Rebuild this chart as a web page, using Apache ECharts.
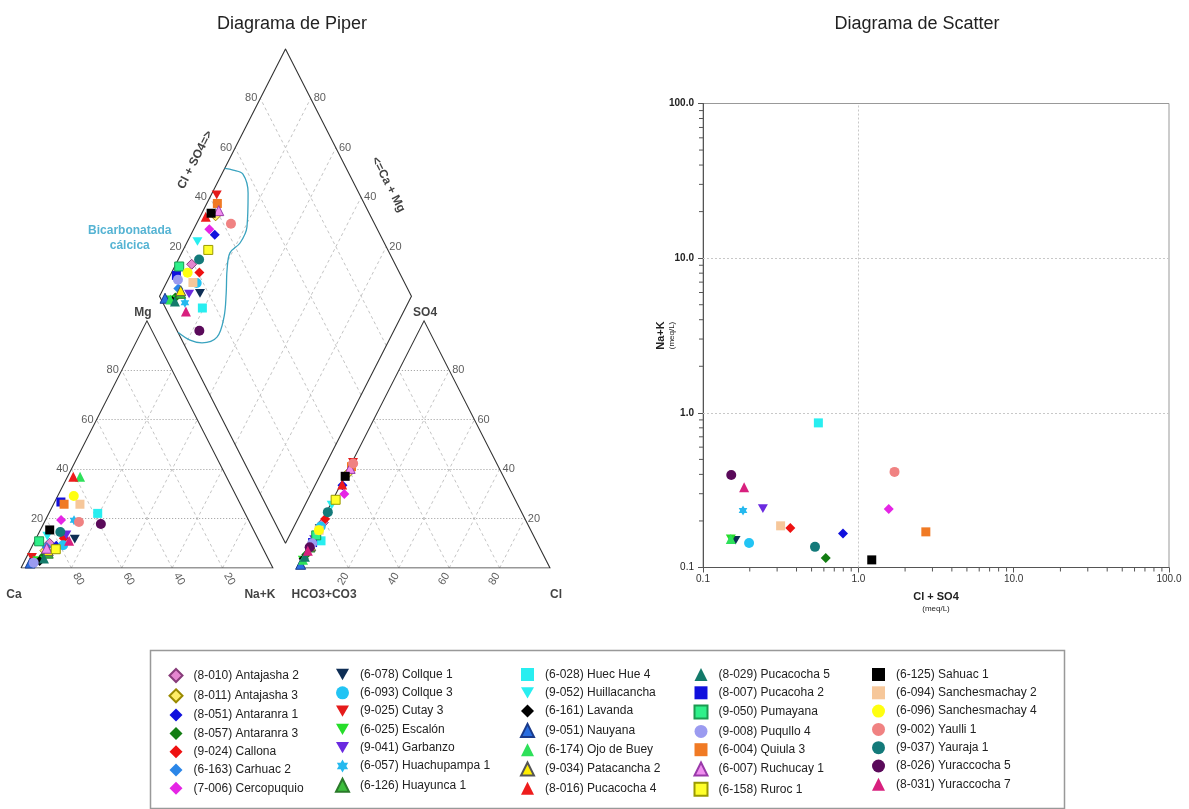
<!DOCTYPE html>
<html><head><meta charset="utf-8">
<script src="https://cdn.jsdelivr.net/npm/echarts@6/dist/echarts.min.js"></script>
<style>html,body{margin:0;padding:0;background:#fff}#c{width:1189px;height:809px}</style>
</head><body><div id="c"></div>
<script>
// ---------------- DATA ----------------
const sampleNames = [
 '(8-010) Antajasha 2','(8-011) Antajasha 3','(8-051) Antaranra 1','(8-057) Antaranra 3','(9-024) Callona','(6-163) Carhuac 2','(7-006) Cercopuquio',
 '(6-078) Collque 1','(6-093) Collque 3','(9-025) Cutay 3','(6-025) Escalón','(9-041) Garbanzo','(6-057) Huachupampa 1','(6-126) Huayunca 1',
 '(6-028) Huec Hue 4','(9-052) Huillacancha','(6-161) Lavanda','(9-051) Nauyana','(6-174) Ojo de Buey','(9-034) Patacancha 2','(8-016) Pucacocha 4',
 '(8-029) Pucacocha 5','(8-007) Pucacoha 2','(9-050) Pumayana','(9-008) Puqullo 4','(6-004) Quiula 3','(6-007) Ruchucay 1','(6-158) Ruroc 1',
 '(6-125) Sahuac 1','(6-094) Sanchesmachay 2','(6-096) Sanchesmachay 4','(9-002) Yaulli 1','(9-037) Yauraja 1','(8-026) Yuraccocha 5','(8-031) Yuraccocha 7'
];
const sampleShapes = [
 'diamond','diamond','diamond','diamond','diamond','diamond','diamond',
 'down','circle','down','down','down','star','triangle',
 'rect','down','diamond','triangle','triangle','triangle','triangle',
 'triangle','rect','rect','circle','rect','triangle','rect',
 'rect','rect','circle','circle','circle','circle','triangle'
];
const fillColors = [
 '#e586d0','#ffee66','#1111dd','#137d13','#ee1111','#2b86e8','#e525e5',
 '#0e2e55','#22c4f4','#e51b1b','#26dd2a','#6b2ae0','#25b9ef','#3cc03c',
 '#28eef0','#28eef0','#000000','#2a6ee0','#2ee05a','#ffee00','#ee1c1c',
 '#137a6a','#1010dd','#2ef08a','#9b9bf0','#f07a24','#f08ef0','#ffff2a',
 '#000000','#f6c79a','#ffff10','#f08282','#137a7a','#5a0a5a','#d8207e'
];
const borderColors = [
 '#873b7a','#9a8a00',null,null,null,null,null,
 null,null,null,null,null,null,'#2a7a2a',
 null,null,null,'#1a3a8a',null,'#555555',null,
 null,null,'#1a9a50',null,null,'#9a3aaa','#9a9a00',
 null,null,null,null,null,null,null
];
// cation percentages [Ca, Mg, Na+K]
const cationPct = [
 [83.7,10,6.3],[87,7,6],[81.5,9,9.5],[88.5,5,6.5],[77,12,11],[85.6,8.5,5.9],[74.4,19.4,6.2],
 [72.8,11.7,15.5],[78.7,9.2,12.1],[93.5,4.3,2.2],[92,3,5],[75.3,13.4,11.3],[69.3,19.3,11.4],[86.2,6,7.8],
 [58.5,22.1,19.4],[83.1,12.9,4],[91.2,2.8,6],[95.4,2,2.6],[58.1,36.9,5],[85.7,7,7.3],[60.8,36.9,2.3],
 [89,3.8,7.2],[70.8,26.7,2.5],[87.4,10.8,1.8],[93.9,2.1,4],[70,25.8,4.2],[85.8,8,6.2],[82.4,7.6,10],
 [80.9,15.4,3.7],[63.7,25.8,10.5],[64.5,29.1,6.4],[67.7,18.6,13.7],[77.1,14.6,8.3],[59.4,17.8,22.8],[75.4,11,13.6]
];
// anion percentages [HCO3+CO3, SO4, Cl]
const anionPct = [
 [80.8,18.4,0.8],[61.5,38,0.5],[65.65,33.5,0.85],[94,5.5,0.5],[79.4,19.8,0.8],[91,8.5,0.5],[66.7,29.9,3.4],
 [83.4,16,0.6],[82.6,16.8,0.6],[56.8,42.8,0.4],[96.5,3.2,0.3],[87.85,11.5,0.65],[91.25,8.3,0.45],[91.05,8.5,0.45],
 [85.4,11,3.6],[73.9,25.5,0.6],[95.95,3.7,0.35],[98.25,1.5,0.25],[96.4,3.3,0.3],[90.5,9,0.5],[65.6,33.8,0.6],
 [95,4.6,0.4],[89.1,10.3,0.6],[86.2,13.2,0.6],[89.4,10,0.6],[58.3,41,0.7],[59.2,40.3,0.5],[71.3,27.6,1.1],
 [62.75,37.1,0.15],[84,15.3,0.7],[84.1,15.3,0.6],[57,42.3,0.7],[76.9,22.6,0.5],[91.2,8.4,0.4],[92.65,7,0.35]
];
// scatter: Cl+SO4 (meq/L) and Na+K (meq/L); null = not plotted
const scatterClSO4 = [
 null,null,0.797,0.617,0.365,null,1.57,
 0.162,0.198,null,0.151,0.243,0.181,null,
 0.553,null,null,null,0.151,null,null,
 null,null,null,null,2.72,null,null,
 1.22,0.316,null,1.71,0.526,0.152,0.184
];
const scatterNaK = [
 null,null,0.166,0.115,0.180,null,0.239,
 0.150,0.144,null,0.153,0.240,0.234,null,
 0.861,null,null,null,0.153,null,null,
 null,null,null,null,0.170,null,null,
 0.112,0.186,null,0.415,0.136,0.396,0.330
];
const pctTicks = [20,40,60,80];
// Bicarbonatada cálcica boundary: [Cl+SO4 %, Ca+Mg %]
const bicarbOutline = [[51.7,100],[54.7,96.3],[57.8,91.6],[56,85.7],[48.7,79.3],[42.7,78.8],[36.7,80.8],[32.1,78.5],[27,74.1],[21.4,70.2],[14.5,68.9],[7.4,73.7],[3.2,79],[0,85.4]];

// ---------------- GEOMETRY ----------------
const H = Math.sqrt(3)/2, GAP = 10;
const catXY = c => [c[2] + c[1]/2, c[1]*H];
const anXY  = a => [100 + GAP + a[2] + a[1]/2, a[1]*H];
const diaXY = (s, cm) => [100 + GAP/2 + 0.5*(s - cm), GAP*H + H*(s + cm)];

const DOWN = 'path://M0,0L10,0L5,8.66Z';
const STAR = 'path://M5,0L6.443,2.5L9.33,2.5L7.887,5L9.33,7.5L6.443,7.5L5,10L3.557,7.5L0.67,7.5L2.113,5L0.67,2.5L3.557,2.5Z';
const symOf = s => s === 'down' ? DOWN : (s === 'star' ? STAR : s);
const FONT = 'Liberation Sans, Arial, sans-serif';

const outlines = [
 [[0,0],[100,0],[50,100*H],[0,0]],
 [[110,0],[210,0],[160,100*H],[110,0]],
 [diaXY(0,0), diaXY(0,100), diaXY(100,100), diaXY(100,0), diaXY(0,0)]
];
const hLines = [], dLines = [];
pctTicks.forEach(k => {
  hLines.push({coords: [[k/2, k*H],[100-k/2, k*H]]});
  hLines.push({coords: [[110+k/2, k*H],[210-k/2, k*H]]});
  dLines.push({coords: [[100-k,0],[(100-k)/2,(100-k)*H]]});
  dLines.push({coords: [[k,0],[k+(100-k)/2,(100-k)*H]]});
  dLines.push({coords: [[110+100-k,0],[110+(100-k)/2,(100-k)*H]]});
  dLines.push({coords: [[110+k,0],[110+k+(100-k)/2,(100-k)*H]]});
  dLines.push({coords: [diaXY(k,0), diaXY(k,100)]});
  dLines.push({coords: [diaXY(0,k), diaXY(100,k)]});
});

function lab(pt, text, o) {
  return {value: pt, label: Object.assign({show: true, formatter: text, position: 'inside',
    align: 'center', verticalAlign: 'middle', fontSize: 11, color: '#333', fontFamily: FONT}, o)};
}
const labels = [];
pctTicks.forEach(k => {
  labels.push(lab([k/2, k*H], String(k), {align: 'right', offset: [-3, 0]}));
  labels.push(lab([100-k, 0], String(k), {rotate: -60, offset: [13, -0.5]}));
  labels.push(lab([110+k, 0], String(k), {rotate: 60, offset: [-12, 1]}));
  labels.push(lab([210-k/2, k*H], String(k), {align: 'left', offset: [3, 0]}));
  labels.push(lab(diaXY(k,100), String(k), {align: 'right', offset: [-3, 0]}));
  labels.push(lab(diaXY(100,k), String(k), {align: 'left', offset: [3, 0]}));
});
const B = {fontWeight: 'bold', fontSize: 12, color: '#111'};
labels.push(lab([50, 100*H], 'Mg', Object.assign({offset: [-4, -8]}, B)));
labels.push(lab([160, 100*H], 'SO4', Object.assign({offset: [1, -8]}, B)));
labels.push(lab([0, 0], 'Ca', Object.assign({offset: [-7, 27]}, B)));
labels.push(lab([100, 0], 'Na+K', Object.assign({offset: [-13, 27]}, B)));
labels.push(lab([110, 0], 'HCO3+CO3', Object.assign({offset: [26, 27]}, B)));
labels.push(lab([210, 0], 'Cl', Object.assign({offset: [6, 27]}, B)));
labels.push(lab(diaXY(50,100), 'Cl + SO4=>', Object.assign({rotate: 63, offset: [-1, -30]}, B)));
labels.push(lab(diaXY(100,40), '<=Ca + Mg', Object.assign({rotate: -63, offset: [1, -30]}, B)));
labels.push(lab(diaXY(20,100), 'Bicarbonatada\ncálcica', {fontWeight: 'bold', fontSize: 12, color: '#2aa0c8', offset: [-55, -9], lineHeight: 15}));

// ---------------- SERIES ----------------
const series = [
  {type: 'lines', coordinateSystem: 'cartesian2d', xAxisIndex: 0, yAxisIndex: 0, silent: true, z: 1,
   data: dLines, lineStyle: {color: '#c4c4c4', width: 1, type: [3, 3], opacity: 1}},
  {type: 'lines', coordinateSystem: 'cartesian2d', xAxisIndex: 0, yAxisIndex: 0, silent: true, z: 1,
   data: hLines, lineStyle: {color: '#999', width: 1, type: [1, 2], opacity: 1}},
  {type: 'lines', coordinateSystem: 'cartesian2d', polyline: true, xAxisIndex: 0, yAxisIndex: 0, silent: true, z: 2,
   data: outlines.map(c => ({coords: c})), lineStyle: {color: '#333', width: 1.1, opacity: 1}},
  {type: 'line', xAxisIndex: 0, yAxisIndex: 0, silent: true, symbol: 'none', smooth: 0.35, z: 2,
   data: bicarbOutline.map(p => diaXY(p[0], p[1])), lineStyle: {color: '#3aa3bf', width: 1.3}},
  {type: 'scatter', xAxisIndex: 0, yAxisIndex: 0, silent: true, symbolSize: 0.1, clip: false, z: 3,
   itemStyle: {color: 'rgba(0,0,0,0)'}, data: labels}
];
// minor ticks + dotted grid lines on scatter plot
const minorX = [], minorY = [];
[0.1, 1, 10].forEach(d => { for (let m = 2; m <= 9; m++) { minorX.push([d*m, 0.1]); minorY.push([0.1, d*m]); } });
series.push({type: 'scatter', xAxisIndex: 1, yAxisIndex: 1, silent: true, clip: false, symbol: 'rect',
  symbolSize: [1, 4], symbolOffset: [0, 2], itemStyle: {color: '#555', opacity: 1}, data: minorX, z: 1,
  markLine: {silent: true, symbol: ['none','none'], label: {show: false},
    lineStyle: {color: '#c8c8c8', type: [2, 2], width: 1},
    data: [{xAxis: 1}, {yAxis: 1}, {yAxis: 10}]}});
series.push({type: 'scatter', xAxisIndex: 1, yAxisIndex: 1, silent: true, clip: false, symbol: 'rect',
  symbolSize: [4, 1], symbolOffset: [-2, 0], itemStyle: {color: '#555', opacity: 1}, data: minorY, z: 1});

sampleNames.forEach((name, i) => {
  const style = {color: fillColors[i], opacity: 1};
  if (borderColors[i]) { style.borderColor = borderColors[i]; style.borderWidth = 1; }
  const sym = symOf(sampleShapes[i]);
  const sz = sampleShapes[i] === 'rect' ? 9 : 10;
  series.push({type: 'scatter', name, xAxisIndex: 0, yAxisIndex: 0, symbol: sym, symbolSize: sz,
    symbolKeepAspect: true, itemStyle: style, z: 5, clip: false,
    data: [catXY(cationPct[i]), anXY(anionPct[i]),
           diaXY(anionPct[i][1] + anionPct[i][2], cationPct[i][0] + cationPct[i][1])]});
  if (scatterClSO4[i] != null) {
    series.push({type: 'scatter', name, xAxisIndex: 1, yAxisIndex: 1, symbol: sym, symbolSize: sz,
      symbolKeepAspect: true, itemStyle: style, z: 5, data: [[scatterClSO4[i], scatterNaK[i]]]});
  }
});

const colLeft = [168.5, 335, 520, 693.5, 872];
const legends = colLeft.map((l, j) => ({
  orient: 'vertical', left: l, top: 668, padding: 0, itemWidth: 13, itemHeight: 13, itemGap: 5.3,
  selectedMode: false, data: sampleNames.slice(j*7, j*7+7),
  textStyle: {fontSize: 12, color: '#222', fontFamily: FONT, padding: [0, 0, 0, 6], lineHeight: 13}
}));

const fmtLog = v => Number(v).toFixed(1);
const nameRich = {a: {fontSize: 11, fontWeight: 'bold', color: '#222', fontFamily: FONT, lineHeight: 13},
                  b: {fontSize: 8, color: '#222', fontFamily: FONT, lineHeight: 10}};
const option = {
  animation: false,
  backgroundColor: '#fff',
  title: [
    {text: 'Diagrama de Piper', left: 287, top: 10, textAlign: 'center', textStyle: {fontSize: 18, fontWeight: 'normal', color: '#222', fontFamily: FONT}},
    {text: 'Diagrama de Scatter', left: 912, top: 10, textAlign: 'center', textStyle: {fontSize: 18, fontWeight: 'normal', color: '#222', fontFamily: FONT}}
  ],
  legend: legends,
  grid: [
    {left: 21, top: 49, width: 529, height: 519, show: false},
    {left: 703, top: 103.5, width: 466, height: 464, show: true, borderColor: '#999', borderWidth: 1}
  ],
  xAxis: [
    {gridIndex: 0, type: 'value', min: 0, max: 210, show: false},
    {gridIndex: 1, type: 'log', logBase: 10, min: 0.1, max: 100,
     axisLine: {lineStyle: {color: '#555'}}, axisTick: {length: 5, lineStyle: {color: '#555'}},
     splitLine: {show: false}, minorTick: {show: false},
     axisLabel: {formatter: fmtLog, fontSize: 10, color: '#333', margin: 7, fontFamily: FONT},
     name: '{a|Cl + SO4}\n{b|(meq/L)}', nameLocation: 'middle', nameGap: 23, nameMoveOverlap: false,
     nameTextStyle: {rich: nameRich}}
  ],
  yAxis: [
    {gridIndex: 0, type: 'value', min: 0, max: (2 + GAP/100) * 100 * H, show: false},
    {gridIndex: 1, type: 'log', logBase: 10, min: 0.1, max: 100,
     axisLine: {lineStyle: {color: '#555'}}, axisTick: {length: 5, lineStyle: {color: '#555'}},
     splitLine: {show: false},
     axisLabel: {fontSize: 10, color: '#222', margin: 9, fontFamily: FONT,
       formatter: v => v >= 1 ? '{b|' + fmtLog(v) + '}' : fmtLog(v),
       rich: {b: {fontWeight: 'bold', fontSize: 10, color: '#222', fontFamily: FONT}}},
     name: '{a|Na+K}\n{b|(meq/L)}', nameLocation: 'middle', nameGap: 26, nameRotate: 90, nameMoveOverlap: false,
     nameTextStyle: {rich: nameRich}}
  ],
  graphic: [{type: 'rect', left: 148, top: 648, shape: {width: 914, height: 158},
             style: {fill: 'none', stroke: '#999', lineWidth: 1.5}, silent: true}],
  series
};
const chart = echarts.init(document.getElementById('c'));
chart.setOption(option);
</script></body></html>
